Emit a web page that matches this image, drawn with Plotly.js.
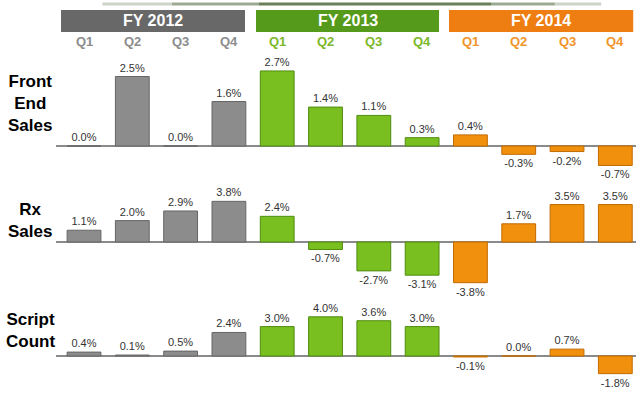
<!DOCTYPE html>
<html>
<head>
<meta charset="utf-8">
<script src="https://cdn.plot.ly/plotly-3.0.1.min.js"></script>
<style>html,body{margin:0;padding:0;background:#fff;}#chart{width:640px;height:394px;}</style>
</head>
<body>
<div id="chart"></div>
<script>
// ---- data ----
var quarters = ["Q1","Q2","Q3","Q4","Q1","Q2","Q3","Q4","Q1","Q2","Q3","Q4"];
var years = ["FY 2012","FY 2013","FY 2014"];
var frontEndSales = [0.0, 2.5, 0.0, 1.6, 2.7, 1.4, 1.1, 0.3, 0.4, -0.3, -0.2, -0.7];
var rxSales = [1.1, 2.0, 2.9, 3.8, 2.4, -0.7, -2.7, -3.1, -3.8, 1.7, 3.5, 3.5];
var scriptCount = [0.4, 0.1, 0.5, 2.4, 3.0, 4.0, 3.6, 3.0, -0.1, 0.0, 0.7, -1.8];
var rowLabels = ["Front<br>End<br>Sales", "Rx<br>Sales", "Script<br>Count"];

// ---- styles ----
var fill = ["#8c8c8c", "#79bf1f", "#f0900c"];
var edge = ["#666666", "#4f8c10", "#c26a00"];
var qColor = ["#8c8c8c", "#7cb82a", "#f0952a"];
var band = ["#686868", "#559a1a", "#ee7d12"];

var idx = quarters.map(function(q, i){ return i; });
function grp(i){ return Math.floor(i / 4); }
var barFill = idx.map(function(i){ return fill[grp(i)]; });
var barEdge = idx.map(function(i){ return edge[grp(i)]; });

function fmt(v){ return v.toFixed(1) + "%"; }

var series = [frontEndSales, rxSales, scriptCount];
var yaxes = ["y", "y2", "y3"];
var traces = series.map(function(s, k){
  return {
    type: "bar",
    x: idx,
    y: s,
    yaxis: yaxes[k],
    xaxis: "x",
    text: s.map(fmt),
    textposition: "outside",
    cliponaxis: false,
    textfont: {family: "Liberation Sans, Arial, sans-serif", size: 11, color: "#333"},
    marker: {color: barFill, line: {color: barEdge, width: 1}},
    hoverinfo: "skip",
    showlegend: false
  };
});

var H = 394;
function py(px){ return 1 - px / H; }

var annotations = [];
// quarter labels
quarters.forEach(function(q, i){
  annotations.push({
    x: i, xref: "x", y: py(42), yref: "paper", text: "<b>" + q + "</b>",
    showarrow: false, font: {family: "Liberation Sans, Arial, sans-serif", size: 13, color: qColor[grp(i)]},
    xanchor: "center", yanchor: "middle"
  });
});
// year bands
var bandX = [[-0.476, 3.333], [3.561, 7.35], [7.557, 11.37]];
var shapes = [];
years.forEach(function(y, k){
  shapes.push({type: "rect", xref: "x", yref: "paper", x0: bandX[k][0], x1: bandX[k][1],
    y0: py(32), y1: py(10), fillcolor: band[k], line: {width: 0}, layer: "below"});
  annotations.push({
    x: (bandX[k][0] + bandX[k][1]) / 2, xref: "x", y: py(21), yref: "paper",
    text: "<b>" + y + "</b>", showarrow: false,
    font: {family: "Liberation Sans, Arial, sans-serif", size: 16, color: "#ffffff"},
    xanchor: "center", yanchor: "middle"
  });
});
// top decorative line (fading shadow)
var fadeSeg = [[0.08,0.2,0.25],[0.2,0.35,0.5],[0.35,0.75,0.75],[0.75,0.86,0.5],[0.86,0.94,0.25]];
fadeSeg.forEach(function(s){
  shapes.push({type: "line", xref: "paper", yref: "paper", x0: s[0], x1: s[1], y0: py(4), y1: py(4),
    line: {color: "rgba(55,85,35," + s[2] + ")", width: 3}});
});

// row labels
var rowY = [103, 220, 330];
rowLabels.forEach(function(t, k){
  annotations.push({
    x: 30, xref: "pixel", y: py(rowY[k]), yref: "paper", text: "<b>" + t + "</b>",
    showarrow: false, align: "center",
    font: {family: "Liberation Sans, Arial, sans-serif", size: 17, color: "#000"},
    xanchor: "center", yanchor: "middle"
  });
});
// convert pixel x to paper for row labels
var L = 56, R = 4, W = 640 - L - R;
annotations.forEach(function(a){ if (a.xref === "pixel") { a.xref = "paper"; a.x = (a.x - L) / W; } });

function yax(dom, rng){
  return {domain: dom, range: rng, showgrid: false, showticklabels: false, ticks: "",
    zeroline: true, zerolinecolor: "#8a8a8a", zerolinewidth: 2, showline: false, fixedrange: true, anchor: "x"};
}

var layout = {
  width: 640, height: 394,
  margin: {l: L, r: R, t: 0, b: 0},
  paper_bgcolor: "#fff", plot_bgcolor: "#fff",
  bargap: 0.3,
  xaxis: {range: [-0.58, 11.428], showticklabels: false, showgrid: false, zeroline: false, ticks: "", anchor: "y3", fixedrange: true},
  yaxis: yax([py(170), py(60)], [-(170-146)/27.8, (146-60)/27.8]),
  yaxis2: yax([py(300), py(180)], [-(300-242)/10.7, (242-180)/10.7]),
  yaxis3: yax([py(390), py(305)], [-(390-356)/9.8, (356-305)/9.8]),
  shapes: shapes,
  annotations: annotations
};

Plotly.newPlot("chart", traces, layout, {displayModeBar: false, staticPlot: true});
</script>
</body>
</html>
